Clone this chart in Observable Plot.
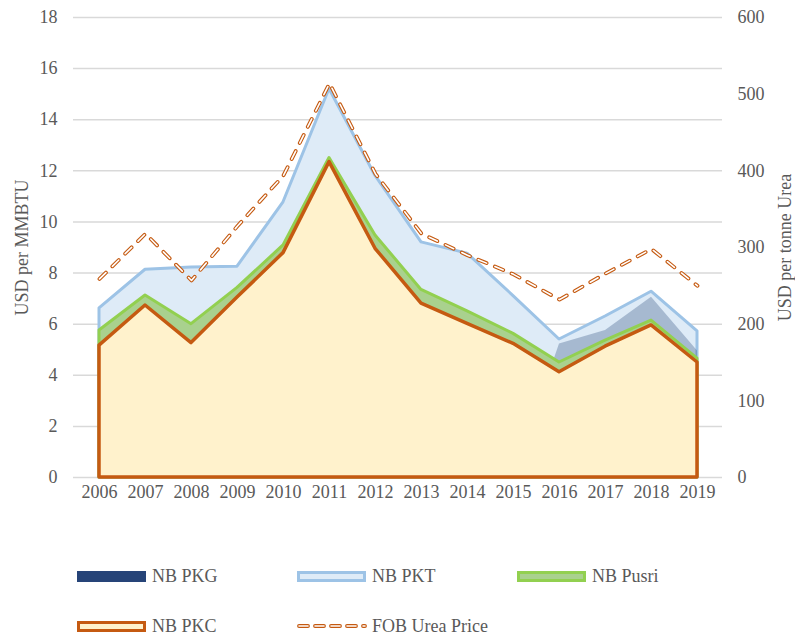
<!DOCTYPE html>
<html>
<head>
<meta charset="utf-8">
<script src="https://cdn.jsdelivr.net/npm/d3@7"></script>
<script src="https://cdn.jsdelivr.net/npm/@observablehq/plot@0.6"></script>
<style>
  body { margin: 0; background: #fff; }
  #wrap { position: relative; width: 795px; height: 637px; font-family: "Liberation Serif", "Times New Roman", serif; color: #595959; }
  .lg { position: absolute; font-size: 18px; line-height: 20px; white-space: nowrap; }
  .sw { position: absolute; box-sizing: border-box; }
</style>
</head>
<body>
<div id="wrap"></div>
<script>
const years = [2006, 2007, 2008, 2009, 2010, 2011, 2012, 2013, 2014, 2015, 2016, 2017, 2018, 2019];
const pkg   = [null, null, null, null, null, null, null, null, null, null, 5.22, 5.75, 7.05, 4.95];
const pkt   = [6.62, 8.13, 8.22, 8.25, 10.77, 15.2, 11.8, 9.2, 8.76, 7.1, 5.4, 6.3, 7.27, 5.72];
const pusri = [5.75, 7.12, 6.0, 7.42, 9.08, 12.5, 9.47, 7.34, 6.5, 5.62, 4.5, 5.36, 6.14, 4.65];
const pkc   = [5.16, 6.73, 5.26, 7.04, 8.78, 12.34, 8.95, 6.8, 6.01, 5.23, 4.12, 5.12, 5.95, 4.5];
const fob   = [259, 318, 257, 328, 394, 514, 396, 318, 290, 265, 232, 266, 298, 250];
const leftTicks  = [0, 2, 4, 6, 8, 10, 12, 14, 16, 18];
const rightTicks = [0, 100, 200, 300, 400, 500, 600];
const seriesNames = ["NB PKG", "NB PKT", "NB Pusri", "NB PKC", "FOB Urea Price"];

const k = 18 / 600; // right axis (USD/t) -> left axis units
const rows = years.map((yr, i) => ({year: yr, pkg: pkg[i], pkt: pkt[i], pusri: pusri[i], pkc: pkc[i], fob: fob[i]}));
const font = "Liberation Serif";

const chart = Plot.plot({
  width: 795, height: 520,
  marginTop: 17, marginBottom: 43, marginLeft: 73, marginRight: 73,
  style: {fontFamily: font, fontSize: "18px", color: "#595959", background: "white"},
  x: {type: "point", domain: years, padding: 0.5},
  y: {domain: [0, 18]},
  marks: [
    Plot.gridY(leftTicks, {stroke: "#d9d9d9", strokeOpacity: 1, strokeWidth: 1.5}),
    Plot.areaY(rows, {x: "year", y: "pkt", fill: "#deebf7", stroke: "#9dc3e6", strokeWidth: 3}),
    Plot.areaY(rows, {x: "year", y: "pkg", fill: "#264478", fillOpacity: 0.3}),
    Plot.areaY(rows, {x: "year", y: "pusri", fill: "#a9d18e", stroke: "#92d050", strokeWidth: 3}),
    Plot.areaY(rows, {x: "year", y: "pkc", fill: "#fff2cc", stroke: "#c55a11", strokeWidth: 3.5}),
    Plot.lineY(rows, {x: "year", y: d => d.fob * k, stroke: "#c55a11", strokeWidth: 3.8, strokeDasharray: "9,9", strokeLinecap: "round"}),
    Plot.lineY(rows, {x: "year", y: d => d.fob * k, stroke: "#ffffff", strokeWidth: 1.6, strokeDasharray: "9,9", strokeLinecap: "round"}),
    Plot.axisX({tickSize: 0, tickPadding: 8, tickFormat: d => String(d), label: null}),
    Plot.axisY(leftTicks, {anchor: "left", tickSize: 0, tickPadding: 16, label: null}),
    Plot.axisY(rightTicks.map(v => v * k), {anchor: "right", tickSize: 0, tickPadding: 15, tickFormat: d => String(Math.round(d / k)), label: null}),
    Plot.text(["USD per MMBTU"], {text: d => d, frameAnchor: "left", dx: -51, rotate: -90, textAnchor: "middle", lineAnchor: "middle", fontSize: 18, fontFamily: font, fill: "#595959"}),
    Plot.text(["USD per tonne Urea"], {text: d => d, frameAnchor: "right", dx: 63, rotate: -90, textAnchor: "middle", lineAnchor: "middle", fontSize: 18, fontFamily: font, fill: "#595959"})
  ]
});

const wrap = document.getElementById("wrap");
chart.style.position = "absolute";
chart.style.left = "0px";
chart.style.top = "0px";
wrap.appendChild(chart);

// legend
const legend = [
  {name: seriesNames[0], x: 77, y: 576, kind: "solid", fill: "#264478"},
  {name: seriesNames[1], x: 297, y: 576, kind: "box", fill: "#deebf7", stroke: "#9dc3e6"},
  {name: seriesNames[2], x: 517, y: 576, kind: "box", fill: "#a9d18e", stroke: "#92d050"},
  {name: seriesNames[3], x: 77, y: 626, kind: "box", fill: "#fff2cc", stroke: "#c55a11"},
  {name: seriesNames[4], x: 297, y: 626, kind: "dash"}
];
legend.forEach(it => {
  if (it.kind === "dash") {
    const ns = "http://www.w3.org/2000/svg";
    const s = document.createElementNS(ns, "svg");
    s.setAttribute("width", 72); s.setAttribute("height", 12);
    s.style.position = "absolute"; s.style.left = (it.x - 2) + "px"; s.style.top = (it.y - 6) + "px";
    [["#c55a11", 3.8], ["#ffffff", 1.6]].forEach(([c, w]) => {
      const l = document.createElementNS(ns, "line");
      l.setAttribute("x1", 4); l.setAttribute("x2", 70); l.setAttribute("y1", 6); l.setAttribute("y2", 6);
      l.setAttribute("stroke", c); l.setAttribute("stroke-width", w);
      l.setAttribute("stroke-dasharray", "9,7"); l.setAttribute("stroke-linecap", "round");
      s.appendChild(l);
    });
    wrap.appendChild(s);
  } else {
    const d = document.createElement("div");
    d.className = "sw";
    d.style.left = it.x + "px"; d.style.top = (it.y - 5) + "px";
    d.style.width = "69px"; d.style.height = "11px";
    d.style.background = it.fill;
    if (it.stroke) d.style.border = "3px solid " + it.stroke;
    wrap.appendChild(d);
  }
  const t = document.createElement("div");
  t.className = "lg";
  t.textContent = it.name;
  t.style.left = (it.x + 75) + "px";
  t.style.top = (it.y - 10) + "px";
  wrap.appendChild(t);
});
</script>
</body>
</html>
